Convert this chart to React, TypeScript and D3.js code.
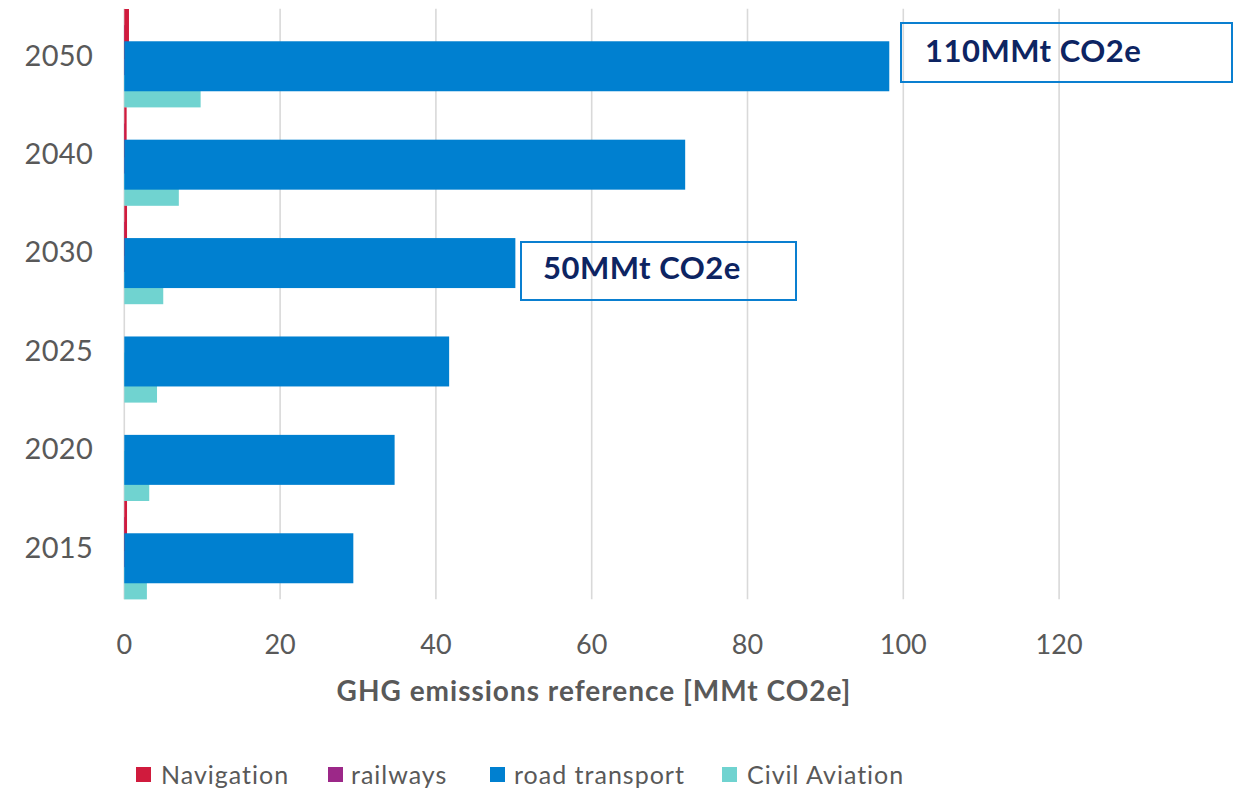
import React from "react";
import * as d3 from "d3";

const years = ["2015", "2020", "2025", "2030", "2040", "2050"];
const navigation = [0.35, 0, 0, 0.35, 0.3, 0.6];
const railways = [0.1, 0, 0, 0.1, 0.1, 0.2];
const roadTransport = [29.4, 34.7, 41.7, 50.2, 72.0, 98.2];
const civilAviation = [2.9, 3.2, 4.2, 5.0, 7.0, 9.8];
const xTicks = [0, 20, 40, 60, 80, 100, 120];
const seriesNames = ["Navigation", "railways", "road transport", "Civil Aviation"];
const seriesColors = ["#d01b3d", "#9c2888", "#0080d0", "#70d3d0"];
const annotations = [
  { label: "110MMt CO2e", year: "2050" },
  { label: "50MMt CO2e", year: "2030" },
];

const FONT = "Lato, 'Open Sans', sans-serif";

export default function App() {
  const W = 1240, H = 789;
  const x = d3.scaleLinear().domain([0, 120]).range([124.3, 1059.1]);
  const y = d3
    .scaleBand<string>()
    .domain([...years].reverse())
    .range([8.8, 599.2])
    .padding(0);
  const band = y.bandwidth();
  const barH = band * 0.508;
  const step = (band - barH) / 3;
  const series = [navigation, railways, roadTransport, civilAviation];
  // draw order: aviation, railways, navigation, road transport on top
  const drawOrder = [3, 1, 0, 2];

  const annBoxes = [
    { x0: 901, y0: 23, x1: 1232, y1: 82, tx: 925, ty: 62 },
    { x0: 521, y0: 242, x1: 796, y1: 300, tx: 543, ty: 279 },
  ];

  const legendItems = [
    { mx: 136, tx: 161 },
    { mx: 328, tx: 351 },
    { mx: 490, tx: 514 },
    { mx: 722, tx: 747 },
  ];

  return (
    <svg
      width={W}
      height={H}
      style={{ position: "absolute", left: 0, top: 0, background: "#fff" }}
      fontFamily={FONT}
    >
      <rect width={W} height={H} fill="#fff" />
      {xTicks.map((t) => (
        <line
          key={"g" + t}
          x1={x(t)}
          x2={x(t)}
          y1={8.8}
          y2={599.2}
          stroke="#d9d9d9"
          strokeWidth={1.6}
        />
      ))}
      {drawOrder.map((si) =>
        years.map((yr, i) => {
          const v = series[si][i];
          if (v <= 0) return null;
          return (
            <rect
              key={si + "-" + yr}
              x={x(0)}
              y={(y(yr) as number) + 0.2 + si * step}
              width={x(v) - x(0)}
              height={barH}
              fill={seriesColors[si]}
            />
          );
        })
      )}
      {years.map((yr) => (
        <text
          key={"yl" + yr}
          x={93}
          y={(y(yr) as number) + band / 2 - 4}
          textAnchor="end"
          dominantBaseline="central"
          fontSize={29}
          letterSpacing={0.3}
          fill="#595959"
        >
          {yr}
        </text>
      ))}
      {xTicks.map((t) => (
        <text
          key={"xl" + t}
          x={x(t)}
          y={654}
          textAnchor="middle"
          fontSize={27}
          fill="#595959"
        >
          {t}
        </text>
      ))}
      <text
        x={594}
        y={701}
        textAnchor="middle"
        fontSize={28}
        letterSpacing={1}
        fontWeight="bold"
        fill="#595959"
      >
        GHG emissions reference [MMt CO2e]
      </text>
      {annotations.map((a, i) => {
        const b = annBoxes[i];
        return (
          <g key={"ann" + i}>
            <rect
              x={b.x0}
              y={b.y0}
              width={b.x1 - b.x0}
              height={b.y1 - b.y0}
              fill="none"
              stroke="#0a7fd0"
              strokeWidth={2}
            />
            <text
              x={b.tx}
              y={b.ty}
              fontSize={31}
              letterSpacing={0.5}
              fontWeight="bold"
              fill="#0d2462"
            >
              {a.label}
            </text>
          </g>
        );
      })}
      {seriesNames.map((n, i) => (
        <g key={"lg" + n}>
          <rect
            x={legendItems[i].mx}
            y={767}
            width={15}
            height={15}
            fill={seriesColors[i]}
          />
          <text
            x={legendItems[i].tx}
            y={774}
            dominantBaseline="central"
            fontSize={25}
            letterSpacing={1}
            fill="#595959"
          >
            {n}
          </text>
        </g>
      ))}
    </svg>
  );
}
